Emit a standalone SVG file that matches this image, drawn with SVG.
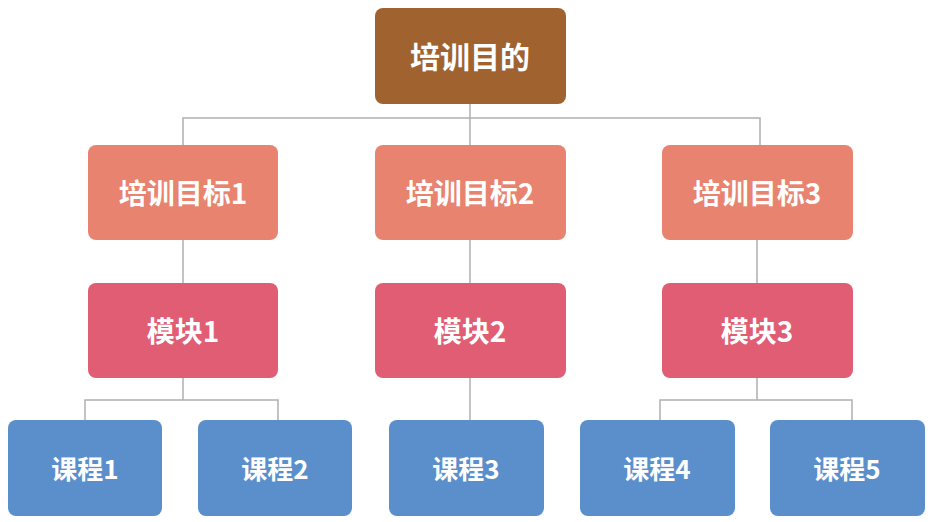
<svg xmlns="http://www.w3.org/2000/svg" width="932" height="522" viewBox="0 0 932 522">
<style>
.t{font-family:"Noto Sans CJK SC","Liberation Sans",sans-serif;font-weight:bold;fill:#fff;text-anchor:middle;dominant-baseline:central}
.c{fill:none;stroke:#b0b0b0;stroke-width:1.5}
</style>
<rect width="932" height="522" fill="#fff"/>
<g id="connectors" class="c">
<path d="M470 104V118M183 145V118H760V145M470 118V145"/>
<path d="M183 240V283M470 240V283M757 240V283"/>
<path d="M183 378V400M85 420V400H278V420"/>
<path d="M470 378V420"/>
<path d="M757 378V400M660 420V400H852V420"/>
</g>
<g id="root"><rect x="375" y="8" width="191" height="96" rx="8" fill="#A0622F"/><text class="t" x="470" y="55" font-size="30">培训目的</text></g>
<g id="g1"><rect x="88" y="145" width="190" height="95" rx="8" fill="#E8836F"/><text class="t" x="183" y="192" font-size="28">培训目标1</text></g>
<g id="g2"><rect x="375" y="145" width="191" height="95" rx="8" fill="#E8836F"/><text class="t" x="470" y="192" font-size="28">培训目标2</text></g>
<g id="g3"><rect x="662" y="145" width="191" height="95" rx="8" fill="#E8836F"/><text class="t" x="757" y="192" font-size="28">培训目标3</text></g>
<g id="m1"><rect x="88" y="283" width="190" height="95" rx="8" fill="#E05D73"/><text class="t" x="183" y="330" font-size="28">模块1</text></g>
<g id="m2"><rect x="375" y="283" width="191" height="95" rx="8" fill="#E05D73"/><text class="t" x="470" y="330" font-size="28">模块2</text></g>
<g id="m3"><rect x="662" y="283" width="191" height="95" rx="8" fill="#E05D73"/><text class="t" x="757" y="330" font-size="28">模块3</text></g>
<g id="c1"><rect x="8" y="420" width="154" height="96" rx="8" fill="#5B8FCB"/><text class="t" x="85" y="467" font-size="26">课程1</text></g>
<g id="c2"><rect x="198" y="420" width="154" height="96" rx="8" fill="#5B8FCB"/><text class="t" x="275" y="467" font-size="26">课程2</text></g>
<g id="c3"><rect x="389" y="420" width="155" height="96" rx="8" fill="#5B8FCB"/><text class="t" x="466" y="467" font-size="26">课程3</text></g>
<g id="c4"><rect x="580" y="420" width="155" height="96" rx="8" fill="#5B8FCB"/><text class="t" x="657" y="467" font-size="26">课程4</text></g>
<g id="c5"><rect x="770" y="420" width="155" height="96" rx="8" fill="#5B8FCB"/><text class="t" x="847" y="467" font-size="26">课程5</text></g>
</svg>
